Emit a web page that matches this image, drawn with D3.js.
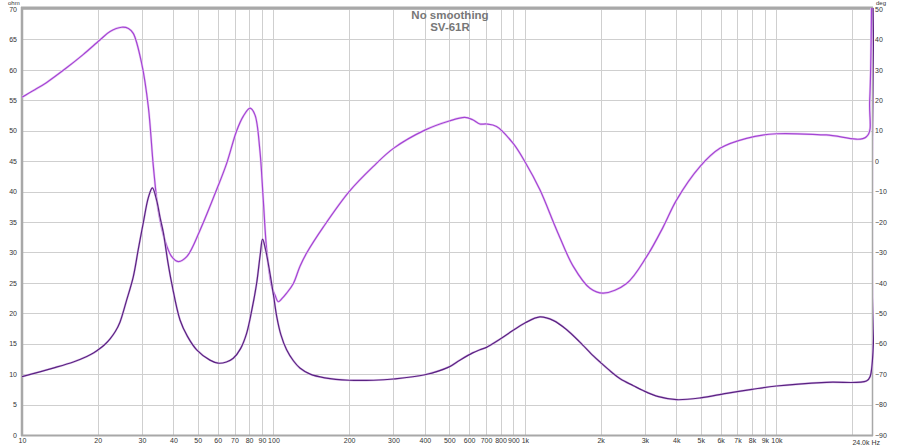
<!DOCTYPE html>
<html><head><meta charset="utf-8">
<script src="https://cdn.jsdelivr.net/npm/d3@7"></script>
<style>body{margin:0;background:#fff}svg{display:block}text{font-family:Arial,"Liberation Sans",sans-serif}</style>
</head><body>
<svg id="c" width="900" height="447"></svg>
<script>
const titleLines = ["No smoothing", "SV-61R"];
const freqTicks = [10,20,30,40,50,60,70,80,90,100,200,300,400,500,600,700,800,900,1000,2000,3000,4000,5000,6000,7000,8000,9000,10000,20000];
const freqLabels = ["10","20","30","40","50","60","70","80","90","100","200","300","400","500","600","700","800","900","1k","2k","3k","4k","5k","6k","7k","8k","9k","10k",""];
const ohmTicks = [0,5,10,15,20,25,30,35,40,45,50,55,60,65,70];
const degTicks = [-90,-80,-70,-60,-50,-40,-30,-20,-10,0,10,20,30,40,50];

const impFreq = [10,13.3,16,18.1,19.3,20.4,21.5,22.4,23.5,24.5,26,27.7,29,30.4,31.8,33,34.3,35.5,36.5,38,39.4,42.5,45.5,49.5,55.9,60.3,65,69.2,74,78.2,82,85.7,88.5,90.5,93,96.8,100,103,107,112.8,120,127.4,140,160,200,250,300,400,500,551,620,662,703,800,898,1000,1147,1300,1466,1650,1871,2000,2200,2400,2700,2951,3400,4006,5000,6336,8000,10000,15800,22800,23600,24000];
const impOhm  = [9.6,11.0,12.0,12.9,13.5,14.2,15.0,15.8,17.0,18.5,22,26,30.5,35,39,40.6,38.6,35.5,33.2,28.5,24.9,18.9,16.2,14,12.3,11.8,12.0,12.6,14.2,16.7,20.5,24.9,29.5,32.2,30.5,26.6,23,19.5,16.5,14.0,12.2,11.0,10.0,9.4,9.0,9.0,9.2,9.9,11.2,12.3,13.5,14.0,14.4,15.8,17.2,18.4,19.4,18.8,17.3,15.3,13.0,11.9,10.4,9.2,8.1,7.3,6.3,5.8,6.1,6.85,7.5,8.05,8.65,8.87,9.6,80];

const phFreq = [10,11.1,12.5,15,17.5,20.4,22.4,24.9,26.5,27.7,29.9,31.8,33.3,34.8,37,39.4,41.8,45.2,51.1,59.4,65.1,71.4,75.9,80.7,84.4,88.3,91.1,94,98.4,101.4,104.5,108,112.8,120,127.4,135.5,158,200,249,300,400,500,577,620,662,703,771,898,1000,1147,1337,1557,1814,2049,2537,3047,3548,4006,4965,5962,7607,10000,15800,22800,23500,24000];
const phDeg  = [21,23.2,25.8,30.6,35,39.8,42.6,44,43.6,42,32.2,17.8,-1.8,-16,-26,-31.4,-33,-31.4,-22.6,-9.4,-0.8,10.0,14.8,17.4,15.2,3.6,-12.8,-29.2,-41.2,-44,-46.2,-45.2,-43.4,-40.2,-34.6,-30.2,-21.6,-10,-1.8,4.2,10.2,13.2,14.4,13.6,12.2,12.2,11.4,5.8,-0.2,-9.4,-22.6,-34.6,-41.8,-43.4,-40.2,-31.4,-21.6,-12.8,-1.8,4.2,7.5,9,8.6,8,20,110];

const L = 22, R = 872, T = 9, B = 435;
const svg = d3.select("#c");
const x = d3.scaleLog().domain([10, 24000]).range([L, R]);
const yL = d3.scaleLinear().domain([0, 70]).range([B, T]);
const yR = d3.scaleLinear().domain([-90, 50]).range([B, T]);

svg.append("defs").append("clipPath").attr("id","clip").append("rect")
  .attr("x", L).attr("y", T-1).attr("width", R-L+2).attr("height", B-T+1);

const grid = svg.append("g").attr("stroke", "#cfcfcf").attr("stroke-width", 1);
grid.selectAll(".v").data(freqTicks).enter().append("line")
  .attr("x1", d => Math.round(x(d))+0.5).attr("x2", d => Math.round(x(d))+0.5)
  .attr("y1", T).attr("y2", B);
grid.selectAll(".h").data(ohmTicks).enter().append("line")
  .attr("x1", L).attr("x2", R)
  .attr("y1", d => Math.round(yL(d))+0.5).attr("y2", d => Math.round(yL(d))+0.5);

// frame
const fr = svg.append("g").attr("stroke", "#a8a8a8");
fr.append("line").attr("x1", L-1).attr("x2", R+1).attr("y1", T-1).attr("y2", T-1).attr("stroke-width", 3);
fr.append("line").attr("x1", L).attr("x2", L).attr("y1", T-2).attr("y2", B+1).attr("stroke-width", 2.5);
fr.append("line").attr("x1", L-1).attr("x2", R+1).attr("y1", B+0.5).attr("y2", B+0.5).attr("stroke-width", 2);
fr.append("line").attr("x1", R+0.5).attr("x2", R+0.5).attr("y1", T-2).attr("y2", B+1).attr("stroke-width", 1.5);

const FS = 7;
const axL = svg.append("g").attr("transform", `translate(${L},0)`)
  .call(d3.axisLeft(yL).tickValues(ohmTicks).tickSize(0).tickPadding(5).tickFormat(d3.format("d")));
axL.select(".domain").remove();
axL.selectAll("text").attr("font-size", FS).attr("fill", "#333").attr("font-family", "Arial,Liberation Sans,sans-serif");

const axR = svg.append("g").attr("transform", `translate(${R},0)`)
  .call(d3.axisRight(yR).tickValues(degTicks).tickSize(0).tickPadding(3).tickFormat(d3.format("d")));
axR.select(".domain").remove();
axR.selectAll("text").attr("font-size", FS).attr("fill", "#333").attr("font-family", "Arial,Liberation Sans,sans-serif");

const axB = svg.append("g").attr("transform", `translate(0,${B})`)
  .call(d3.axisBottom(x).tickValues(freqTicks).tickSize(0).tickPadding(3).tickFormat((d,i) => freqLabels[i]));
axB.select(".domain").remove();
axB.selectAll("text").attr("font-size", FS).attr("fill", "#333").attr("font-family", "Arial,Liberation Sans,sans-serif");

svg.append("text").attr("x", R+8).attr("y", B+10).attr("text-anchor", "end")
  .attr("font-size", FS).attr("fill", "#333").text("24.0k Hz");
svg.append("text").attr("x", 8).attr("y", 4.5).attr("font-size", 6).attr("fill", "#333").text("ohm");
svg.append("text").attr("x", 876).attr("y", 4.5).attr("font-size", 6).attr("fill", "#333").text("deg");

// curves
const plot = svg.append("g").attr("clip-path", "url(#clip)");
const phData = phFreq.map((f,i) => [f, phDeg[i]]);
const impData = impFreq.map((f,i) => [f, impOhm[i]]);
const lineR = d3.line().x(d => x(d[0])).y(d => yR(d[1])).curve(d3.curveCatmullRom.alpha(0.5));
const lineL = d3.line().x(d => x(d[0])).y(d => yL(d[1])).curve(d3.curveCatmullRom.alpha(0.5));
plot.append("path").attr("d", lineR(phData)).attr("fill", "none")
  .attr("stroke", "#ecd0f5").attr("stroke-width", 2.4);
plot.append("path").attr("d", lineR(phData)).attr("fill", "none")
  .attr("stroke", "#a344d4").attr("stroke-width", 1.2);
plot.append("path").attr("d", lineL(impData)).attr("fill", "none")
  .attr("stroke", "#dcc2ea").attr("stroke-width", 2.2);
plot.append("path").attr("d", lineL(impData)).attr("fill", "none")
  .attr("stroke", "#5a2282").attr("stroke-width", 1.2);

// title
svg.selectAll(".title").data(titleLines).enter().append("text")
  .attr("x", 450).attr("y", (d,i) => 19 + i*11.5).attr("text-anchor", "middle")
  .attr("font-size", 11.5).attr("font-weight", "bold").attr("fill", "#777").text(d => d);
</script>
</body></html>
